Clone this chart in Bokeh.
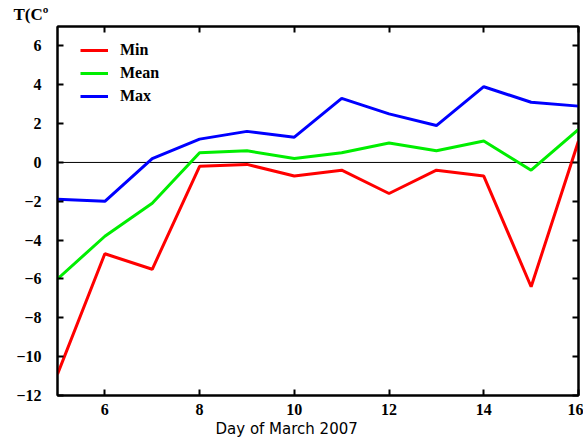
from bokeh.plotting import figure
from bokeh.models import LinearAxis, Span, Legend, LegendItem, FixedTicker, Range1d, Title
from bokeh.embed import file_html
from bokeh.resources import INLINE

# Daily temperatures, March 2007
days = [5, 6, 7, 8, 9, 10, 11, 12, 13, 14, 15, 16]
t_min = [-10.9, -4.7, -5.5, -0.2, -0.1, -0.7, -0.4, -1.6, -0.4, -0.7, -6.4, 1.1]
t_mean = [-6.0, -3.8, -2.1, 0.5, 0.6, 0.2, 0.5, 1.0, 0.6, 1.1, -0.4, 1.7]
t_max = [-1.9, -2.0, 0.2, 1.2, 1.6, 1.3, 3.3, 2.5, 1.9, 3.9, 3.1, 2.9]

x_ticks = [6, 8, 10, 12, 14, 16]
y_ticks = [-12, -10, -8, -6, -4, -2, 0, 2, 4, 6]

SERIF = "Liberation Serif"

p = figure(width=583, height=441, output_backend="svg", toolbar_location=None,
           x_range=Range1d(5, 16), y_range=Range1d(-12, 7),
           min_border_left=57, min_border_right=5, min_border_top=0,
           min_border_bottom=46, x_axis_location=None, y_axis_location=None)
p.grid.visible = False
p.outline_line_color = "black"
p.outline_line_width = 2
p.background_fill_color = "white"
p.border_fill_color = "white"

# Zero reference line
p.add_layout(Span(location=0, dimension="width", line_color="black",
                  line_width=1, level="underlay"))

r_min = p.line(days, t_min, line_color="#ff0000", line_width=3)
r_mean = p.line(days, t_mean, line_color="#00ee00", line_width=3)
r_max = p.line(days, t_max, line_color="#0000ff", line_width=3)


def style_axis(ax, labels=True):
    ax.axis_line_color = "black"
    ax.axis_line_width = 2
    ax.major_tick_in = 6
    ax.major_tick_out = 0
    ax.major_tick_line_width = 2
    ax.minor_tick_line_color = None
    if labels:
        ax.major_label_text_font = SERIF
        ax.major_label_text_font_style = "bold"
        ax.major_label_text_font_size = "16px"
        ax.major_label_text_color = "black"
    else:
        ax.major_label_overrides = {t: "" for t in ax.ticker.ticks}
        ax.major_label_standoff = 0


xb = LinearAxis(ticker=FixedTicker(ticks=x_ticks))
style_axis(xb)
xb.major_label_standoff = 8
p.add_layout(xb, "below")

yl = LinearAxis(ticker=FixedTicker(ticks=y_ticks))
style_axis(yl)
yl.major_label_standoff = 16
p.add_layout(yl, "left")

xt = LinearAxis(ticker=FixedTicker(ticks=x_ticks))
style_axis(xt, labels=False)
p.add_layout(xt, "above")

yr = LinearAxis(ticker=FixedTicker(ticks=y_ticks))
style_axis(yr, labels=False)
p.add_layout(yr, "right")

# x-axis caption, set a little left of the frame centre
p.add_layout(Title(text="Day of March 2007", text_font="DejaVu Sans",
                   text_font_style="normal", text_font_size="15px",
                   text_color="black", align="left", offset=158,
                   standoff=0), "below")

legend = Legend(items=[LegendItem(label="Min", renderers=[r_min]),
                       LegendItem(label="Mean", renderers=[r_mean]),
                       LegendItem(label="Max", renderers=[r_max])],
                location=(23, 289))
legend.border_line_color = None
legend.background_fill_alpha = 0
legend.label_text_font = SERIF
legend.label_text_font_style = "bold"
legend.label_text_font_size = "16px"
legend.label_text_color = "black"
legend.glyph_width = 28
legend.label_standoff = 12
legend.spacing = 3
legend.margin = 0
legend.padding = 0
p.add_layout(legend)

p.title.text = "T(C\u00ba"
p.title.text_font = SERIF
p.title.text_font_style = "bold"
p.title.text_font_size = "17px"
p.title.text_color = "black"
p.title.align = "left"
p.title.offset = -44
p.title.standoff = 5

open("out.html", "w").write(file_html(p, INLINE))
